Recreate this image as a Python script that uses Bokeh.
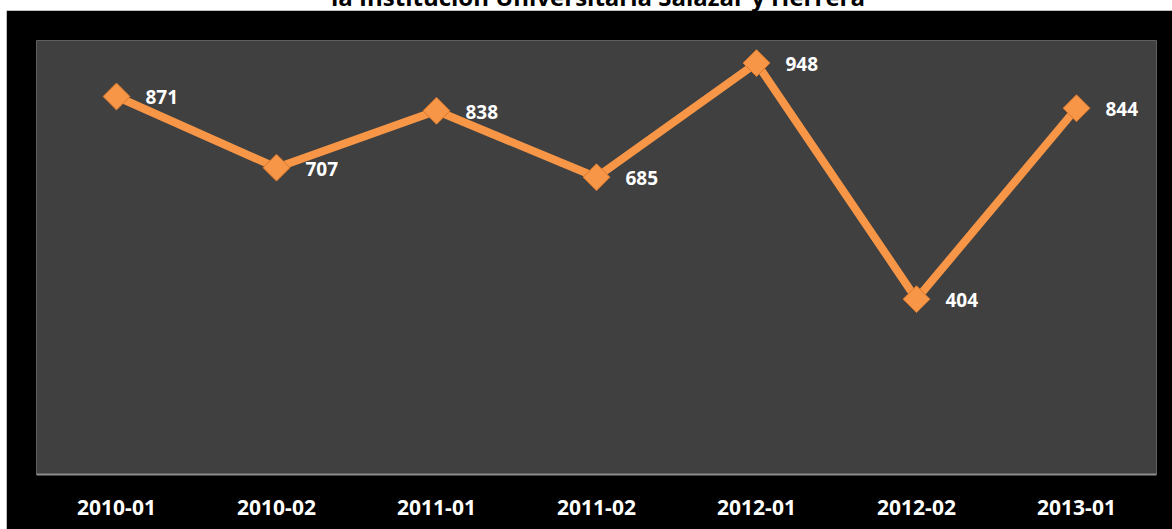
import math
from bokeh.plotting import figure
from bokeh.models import ColumnDataSource, FactorRange, Range1d, Div
from bokeh.layouts import column
from bokeh.core.properties import value
from bokeh.embed import file_html
from bokeh.resources import INLINE

# ---- data ----
periods = ["2010-01", "2010-02", "2011-01", "2011-02", "2012-01", "2012-02", "2013-01"]
students = [871, 707, 838, 685, 948, 404, 844]
title_text = "la Institución Universitaria Salazar y Herrera"

labels = [str(v) for v in students]
src = ColumnDataSource(data=dict(x=periods, y=students, lab=labels))

ORANGE = "#F79646"
FONT = "Open Sans"

p = figure(
    width=1166, height=519,
    x_range=FactorRange(*periods, range_padding=0),
    y_range=Range1d(0, 1000),
    output_backend="svg", toolbar_location=None,
    background_fill_color="#404040",
    border_fill_color="black",
    outline_line_color=None,
    min_border_left=30, min_border_right=16,
    min_border_top=30, min_border_bottom=55,
    margin=0,
)
p.xgrid.visible = False
p.ygrid.visible = False
p.yaxis.visible = False

ax = p.xaxis[0]
ax.axis_line_color = "#8C8C8C"
ax.axis_line_width = 2
ax.major_tick_line_color = None
ax.minor_tick_line_color = None
ax.major_label_text_color = "white"
ax.major_label_text_font = FONT
ax.major_label_text_font_style = "bold"
ax.major_label_text_font_size = "21px"
ax.major_label_standoff = 19
ax.axis_label = None

p.line("x", "y", source=src, line_color=ORANGE, line_width=8)
p.scatter("x", "y", source=src, marker="square", angle=math.pi / 4, size=19,
          fill_color=ORANGE, line_color="#D9782E", line_width=1)

p.text("x", "y", text="lab", source=src, x_offset=29, y_offset=1,
       text_color="white", text_font=value(FONT), text_font_style="bold",
       text_font_size="19px", text_align="left", text_baseline="middle")

title_div = Div(
    text=('<div style="position:relative; top:-16px; width:1166px; box-sizing:border-box; '
          'padding-left:18px; text-align:center; font-family:\'Open Sans\'; font-weight:bold; '
          'font-size:24px; line-height:26px; color:black; white-space:nowrap;">'
          + title_text + '</div>'),
    width=1166, height=10, margin=0, styles={"overflow": "visible"},
)

layout = column(title_div, p, spacing=0, margin=(0, 0, 0, 6))

open("out.html", "w").write(file_html(layout, INLINE))
